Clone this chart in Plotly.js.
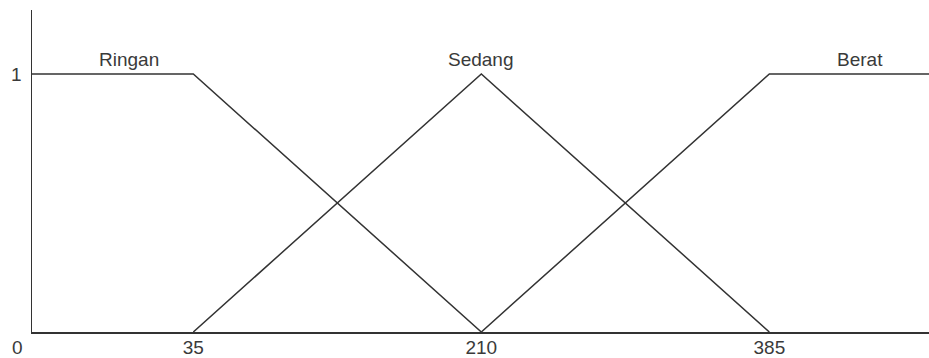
<!DOCTYPE html>
<html>
<head>
<meta charset="utf-8">
<script src="https://cdn.plot.ly/plotly-3.0.1.min.js"></script>
<style>
  html, body { margin: 0; padding: 0; background: #fff; }
  #chart { width: 929px; height: 358px; }
</style>
</head>
<body>
<div id="chart"></div>
<script>
// Fungsi keanggotaan: Ringan, Sedang, Berat
const ringanX = [-63, 35, 210];
const ringanY = [1, 1, 0];
const sedangX = [35, 210, 385];
const sedangY = [0, 1, 0];
const beratX = [210, 385, 482];
const beratY = [0, 1, 1];

const labelNames = ['Ringan', 'Sedang', 'Berat'];
const labelX = [-4, 210, 440];

const xTicks = [35, 210, 385];
const xTickText = ['35', '210', '385'];

const X_RANGE = [-63, 482];
const Y_RANGE = [0, 1.248];

const INK = '#333333';
const FONT = { family: 'Liberation Sans, Arial, sans-serif', size: 19, color: '#3a3a3a' };

function garis(x, y, nama) {
  return {
    type: 'scatter',
    mode: 'lines',
    x: x,
    y: y,
    name: nama,
    line: { color: INK, width: 1.5 },
    hoverinfo: 'skip',
    cliponaxis: false,
  };
}

const data = [
  garis(ringanX, ringanY, 'Ringan'),
  garis(sedangX, sedangY, 'Sedang'),
  garis(beratX, beratY, 'Berat'),
];

const annotations = labelNames.map((nama, i) => ({
  x: labelX[i],
  y: 1,
  xref: 'x',
  yref: 'y',
  text: nama,
  showarrow: false,
  yshift: 14,
  font: FONT,
}));

// label "0" di pojok kiri bawah
annotations.push({
  x: X_RANGE[0],
  y: 0,
  xref: 'x',
  yref: 'y',
  text: '0',
  showarrow: false,
  xshift: -15,
  yshift: -15,
  font: FONT,
});

const layout = {
  width: 929,
  height: 358,
  margin: { l: 32, r: 0, t: 10, b: 26 },
  paper_bgcolor: '#ffffff',
  plot_bgcolor: '#ffffff',
  showlegend: false,
  font: FONT,
  xaxis: {
    range: X_RANGE,
    tickvals: xTicks,
    ticktext: xTickText,
    ticks: '',
    ticklabelstandoff: -2,
    showgrid: false,
    zeroline: false,
    showline: true,
    linecolor: INK,
    linewidth: 1.5,
    tickfont: FONT,
    fixedrange: true,
  },
  yaxis: {
    range: Y_RANGE,
    tickvals: [1],
    ticktext: ['1'],
    ticks: '',
    ticklabelstandoff: 5,
    showgrid: false,
    zeroline: false,
    showline: true,
    linecolor: INK,
    linewidth: 1.5,
    tickfont: FONT,
    fixedrange: true,
  },
  annotations: annotations,
};

Plotly.newPlot('chart', data, layout, { displayModeBar: false, staticPlot: true });
</script>
</body>
</html>
